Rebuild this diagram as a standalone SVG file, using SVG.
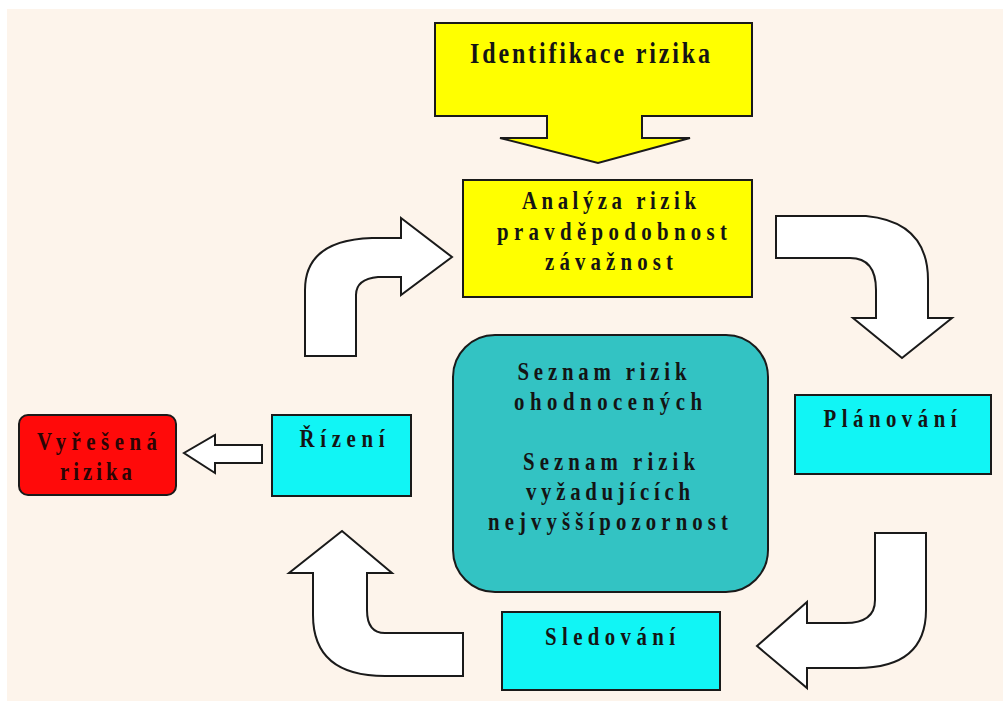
<svg xmlns="http://www.w3.org/2000/svg" width="1003" height="701" viewBox="0 0 1003 701">
<style>
.t{font-family:"Liberation Serif","Times New Roman",serif;font-weight:bold;font-size:26px;fill:#141414;text-anchor:middle}
.big{font-size:30px}
.arr{fill:#ffffff;stroke:#1a1a1a;stroke-width:2;stroke-linejoin:miter}
.box{stroke:#1a1a1a;stroke-width:2}
</style>
<rect x="0" y="0" width="1003" height="701" fill="#ffffff"/>
<rect x="7" y="9" width="996" height="692" fill="#fdf4eb"/>
<g id="connectors">
<path class="arr" d="M305,356 L305,290 Q305,240 372,238 L401,238 L401,218 L452,257 L401,295 L401,277 L378,277 Q356,279 356,295 L356,356 Z"/>
<path class="arr" d="M776,216 L866,216 Q928,222 928,280 L928,318 L952,318 L902,358 L853,318 L876,318 L876,290 Q876,258 850,258 L776,258 Z"/>
<path class="arr" d="M875,533 L926,533 L926,610 Q926,668 857,668 L807,668 L807,688 L757,646 L807,602 L807,623 L845,623 Q875,623 875,600 Z"/>
<path class="arr" d="M463,633 L463,676 L385,676 Q313,676 313,615 L313,573 L289,573 L342,531 L392,573 L367,573 L367,610 Q367,633 385,633 Z"/>
<path class="arr" d="M262,445 L262,463 L215,463 L215,473 L184,453 L215,435 L215,445 Z"/>
</g>
<g id="identifikace">
<path class="box" fill="#ffff00" d="M435,23 L752,23 L752,116 L642,116 L642,138 L690,138 L598,163 L500,138 L547,138 L547,116 L435,116 Z"/>
<g transform="scale(0.8,1)">
<text class="t big" x="737.5" y="63" textLength="300" lengthAdjust="spacing">Identifikace rizika</text>
</g>
</g>
<g id="analyza">
<rect class="box" x="463" y="180" width="289" height="117" fill="#ffff00"/>
<g transform="scale(0.8,1)">
<text class="t" x="761.25" y="209" textLength="217.5" lengthAdjust="spacing">Analýza rizik</text>
<text class="t" x="765" y="240" textLength="287.5" lengthAdjust="spacing">pravděpodobnost</text>
<text class="t" x="761.25" y="270" textLength="160" lengthAdjust="spacing">závažnost</text>
</g>
</g>
<g id="planovani">
<rect class="box" x="795" y="395" width="196" height="79" fill="#11f5f5"/>
<g transform="scale(0.8,1)">
<text class="t" x="1112.5" y="427" textLength="166.25" lengthAdjust="spacing">Plánování</text>
</g>
</g>
<g id="seznam">
<rect class="box" x="453" y="335" width="315" height="257" rx="42" ry="42" fill="#33c3c3"/>
<g transform="scale(0.8,1)">
<text class="t" x="752.5" y="380" textLength="211.25" lengthAdjust="spacing">Seznam rizik</text>
<text class="t" x="760" y="410" textLength="235" lengthAdjust="spacing">ohodnocených</text>
<text class="t" x="761.25" y="470" textLength="215" lengthAdjust="spacing">Seznam rizik</text>
<text class="t" x="760" y="500" textLength="205" lengthAdjust="spacing">vyžadujících</text>
<text class="t" x="760" y="530" textLength="300" lengthAdjust="spacing">nejvyššípozornost</text>
</g>
</g>
<g id="sledovani">
<rect class="box" x="502" y="612" width="218" height="78" fill="#11f5f5"/>
<g transform="scale(0.8,1)">
<text class="t" x="762.5" y="645" textLength="162.5" lengthAdjust="spacing">Sledování</text>
</g>
</g>
<g id="rizeni">
<rect class="box" x="272" y="415" width="139" height="81" fill="#11f5f5"/>
<g transform="scale(0.8,1)">
<text class="t" x="427.5" y="447" textLength="106.25" lengthAdjust="spacing">Řízení</text>
</g>
</g>
<g id="vyresena">
<rect class="box" x="19" y="415" width="157" height="80" rx="9" ry="9" fill="#ff0a0a"/>
<g transform="scale(0.8,1)">
<text class="t" x="121.25" y="450" textLength="150" lengthAdjust="spacing" style="fill:#2a0505">Vyřešená</text>
<text class="t" x="120" y="480" textLength="90" lengthAdjust="spacing" style="fill:#2a0505">rizika</text>
</g>
</g>
</svg>
